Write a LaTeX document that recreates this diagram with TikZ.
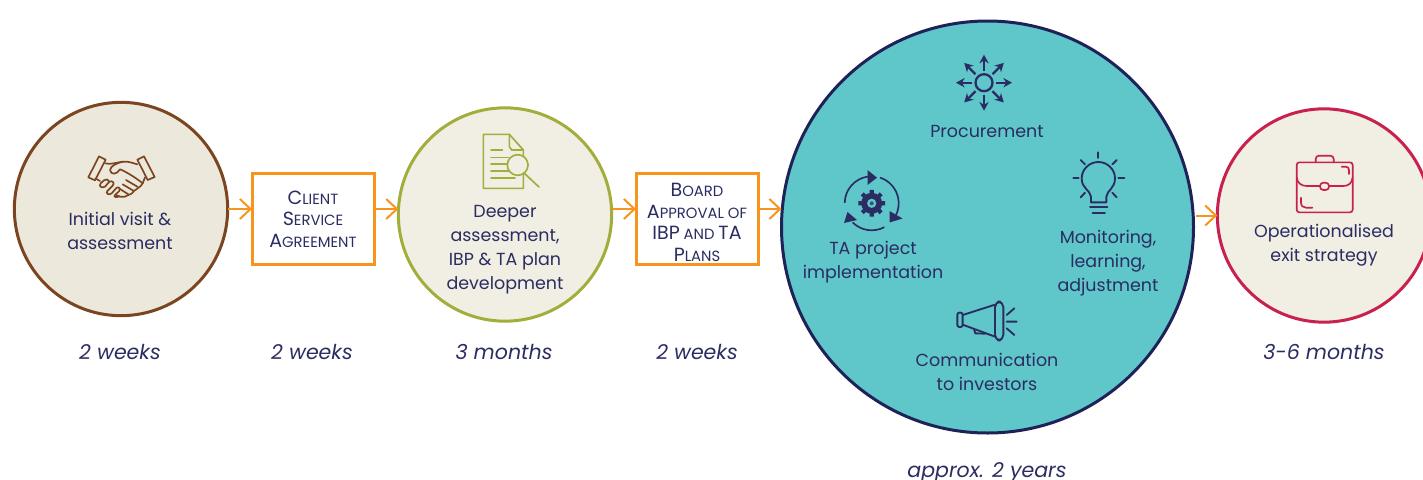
\documentclass[tikz,border=0pt]{standalone}
\usepackage{fontspec}
\setmainfont{Poppins}
\usetikzlibrary{arrows.meta,calc}
\definecolor{ink}{HTML}{2B2D62}
\definecolor{navyline}{HTML}{1F2258}
\definecolor{brownline}{HTML}{7A4520}
\definecolor{oliveline}{HTML}{A3AD3C}
\definecolor{crimson}{HTML}{C8204F}
\definecolor{orangeline}{HTML}{F7941E}
\definecolor{creamA}{HTML}{ECE9DC}
\definecolor{creamB}{HTML}{F1EEE3}
\definecolor{tealfill}{HTML}{5FC6C9}
\newcommand{\SmC}[2]{{\fontsize{14.3}{16}\selectfont #1}{\fontsize{11.1}{16}\selectfont #2}}
\newcommand{\SmS}[1]{{\fontsize{11.1}{16}\selectfont #1}}
\tikzset{
  x=0.75pt,y=-0.75pt,
  disc/.style={circle,line width=2.25pt,outer sep=0pt,inner sep=0pt},
  smalldisc/.style={disc,minimum size=160pt},
  stepbox/.style={rectangle,draw=orangeline,fill=white,line width=2.25pt,outer sep=0pt,inner sep=0pt,
    minimum width=91.5pt,minimum height=68.5pt,text=ink,align=center,font=\fontsize{11}{16.2}\selectfont},
  flow/.style={draw=orangeline,line width=1.5pt,-{Straight Barb[length=8pt,width=15pt,line width=1.5pt]}},
  lab/.style={text=ink,align=center,inner sep=0pt,font=\fontsize{13.1}{18}\selectfont},
  dur/.style={text=ink,align=center,inner sep=0pt,font=\fontsize{15.4}{18}\selectfont\itshape},
  thin icon/.style={line width=1.25pt,line cap=round,line join=round},
}
\begin{document}
\begin{tikzpicture}
\clip (0,0) rectangle (1423,479);
% discs
\node[smalldisc,draw=brownline,fill=creamA] (c1) at (121,209) {};
\node[smalldisc,draw=oliveline,fill=creamB] (c2) at (505,214.5) {};
\node[disc,draw=navyline,fill=tealfill,minimum size=309pt] (c3) at (987.5,227) {};
\node[smalldisc,draw=crimson,fill=creamB] (c4) at (1324,215.5) {};
% boxes
\node[stepbox] (b1) at (313,219) {\SmC{C}{LIENT}\\\SmC{S}{ERVICE}\\\SmC{A}{GREEMENT}};
\node[stepbox] (b2) at (697,219) {\rule{0pt}{15pt}\SmC{B}{OARD}\\\SmC{A}{PPROVAL OF}\\{\fontsize{14.3}{16}\selectfont IBP} \SmS{AND} {\fontsize{14.3}{16}\selectfont TA}\\\SmC{P}{LANS}};
% connectors
\draw[flow] (c1.east) -- (c1.east -| b1.west);
\draw[flow] (b1.east |- c1) -- (c2.west |- c1);
\draw[flow] (c2.east |- c1) -- (b2.west |- c1);
\draw[flow] (b2.east |- c1) -- (c3.west |- c1);
\draw[flow] ([xshift=2pt]c3.east |- c4) -- (c4.west);
% labels
\node[lab] (t1) at (120,230.5) {Initial visit \&\\assessment};
\node[lab] (t2) at (505,250) {Deeper\\assessment,\\IBP \& TA plan\\development};
\node[lab] (t3a) at (987,131) {Procurement};
\node[lab] (t3b) at (873,262) {TA project\\implementation};
\node[lab] (t3c) at (1108,263) {Monitoring,\\learning,\\adjustment};
\node[lab] (t3d) at (987,371.5) {Communication\\to investors};
\node[lab] (t4) at (1324,245) {Operationalised\\exit strategy};
% durations
\node[dur] (d1) at (120,352) {2 weeks};
\node[dur] (d2) at (312,352) {2 weeks};
\node[dur] (d3) at (504,352) {3 months};
\node[dur] (d4) at (697,352) {2 weeks};
\node[dur] (d5) at (987,472.5) {approx. 2 years};
\node[dur] (d6) at (1324,352) {3-6 months};
% handshake icon
\begin{scope}[shift={(80,145)},x=0.25pt,y=-0.25pt,draw=brownline,thin icon]
\draw (25,97) -- (57,34) -- (77,44) -- (45,106) -- cycle;
\draw (172,44) -- (192,34) -- (224,96) -- (203,105) -- cycle;
\draw (76,55) .. controls (90,60) and (110,52) .. (128,50) .. controls (145,48) and (160,55) .. (172,58);
\draw (128,50) .. controls (110,55) and (92,62) .. (90,75) .. controls (92,90) and (110,90) .. (120,73) .. controls (135,78) and (170,100) .. (188,115);
\draw (195,97) -- (188,115) .. controls (180,130) and (170,128) .. (162,138) .. controls (155,150) and (145,148) .. (135,155) .. controls (125,158) and (115,155) .. (108,150);
\draw (46,100) -- (60,108);
\draw (72,106) -- (62,115) .. controls (55,125) and (65,130) .. (75,125) -- (88,110) .. controls (98,105) and (105,115) .. (98,122) -- (82,138) .. controls (75,145) and (88,152) .. (95,145) -- (110,128) .. controls (118,125) and (122,132) .. (118,138) -- (105,150) .. controls (98,155) and (110,160) .. (118,153);
\draw (72,106) .. controls (78,100) and (85,103) .. (88,110);
\draw (138,105) -- (172,125);
\draw (128,118) -- (160,137);
\draw (120,132) -- (145,148);
\end{scope}
% document icon
\begin{scope}[shift={(470,125)},x=0.25pt,y=-0.25pt,draw=oliveline,thin icon]
\draw (160,145) -- (160,190) -- (40,190) -- (40,28) -- (118,28) -- (160,75) -- (160,92);
\draw (118,28) -- (118,65) -- (125,75) -- (160,75);
\draw (63,75) -- (97,75) (63,97) -- (115,97) (63,117) -- (110,117) (63,138) -- (115,138) (63,158) -- (135,158);
\draw (143,120) circle[radius=31];
\draw (163,145) -- (207,186);
\end{scope}
% procurement icon
\coordinate (pc) at (984,82.7);
\draw[draw=ink,line width=1.7pt] (pc) circle[radius=8.5];
\foreach \a in {0,45,...,315}
  \draw[draw=ink,line width=1.7pt,-{Stealth[length=6.5pt,width=7pt]}] ($(pc)+(\a:12)$) -- ($(pc)+(\a:28)$);
% gear cycle icon
\coordinate (gc) at (871.7,203.3);
\begin{scope}[draw=ink,line width=1.25pt]
\draw ($(gc)+(181:27)$) arc[start angle=181,end angle=262,radius=27];
\draw ($(gc)+(-72:27)$) arc[start angle=-72,end angle=28,radius=27];
\draw ($(gc)+(62:27)$) arc[start angle=62,end angle=135,radius=27];
\end{scope}
\fill[ink] (867.5,170) -- (877,177.7) -- (867.5,185) -- cycle;
\fill[ink] (889.5,211) -- (902.5,218.5) -- (889.5,222.5) -- cycle;
\fill[ink] (844,223) -- (847.5,212) -- (857,220) -- cycle;
\fill[ink] (gc) circle[radius=10.5];
\foreach \a in {0,45,...,315}
  \fill[ink] ($(gc)+(\a-13:9)$) -- ($(gc)+(\a-9:13.5)$) -- ($(gc)+(\a+9:13.5)$) -- ($(gc)+(\a+13:9)$) -- cycle;
\fill[tealfill] (gc) circle[radius=4.6];
\fill[ink!75!tealfill] (gc) circle[radius=2];
% bulb icon
\begin{scope}[shift={(800,30)},x=0.25pt,y=-0.25pt,draw=ink,line width=1.4pt,line cap=round,line join=round]
\draw (873,517) -- (873,500) .. controls (870,480) and (845,475) .. (845,445) .. controls (845,418) and (868,396) .. (895,396) .. controls (922,396) and (945,418) .. (945,445) .. controls (945,475) and (922,480) .. (919,500) -- (919,517) -- cycle;
\draw (870,532) -- (922,532) (878,548) -- (915,548);
\draw (895,367) -- (895,384) (820,445) -- (836,445) (955,445) -- (973,445);
\draw (842,390) -- (855,403) (950,390) -- (937,403) (842,502) -- (855,488) (950,502) -- (937,488);
\end{scope}
% megaphone icon
\begin{scope}[shift={(900,280)},x=0.25pt,y=-0.25pt,draw=ink,line width=1.4pt,line cap=round,line join=round]
\draw[rounded corners=1.5pt] (172,98) rectangle (188,141);
\draw (188,105) -- (285,74) (188,134) -- (285,170);
\draw[rounded corners=4pt] (285,65) rectangle (310,181);
\draw (222,147) -- (226,160) -- (255,161);
\draw (320,105) -- (343,85) (320,125) -- (350,125) (320,145) -- (343,165);
\end{scope}
% briefcase icon
\begin{scope}[shift={(1180,100)},x=0.25pt,y=-0.25pt,draw=crimson,thin icon]
\draw[rounded corners=2pt] (350,187) rectangle (518,337);
\draw[rounded corners=2.5pt] (407,187) -- (407,167) -- (461,167) -- (461,187);
\draw (350,232) .. controls (352,250) and (365,258) .. (380,258) -- (420,258);
\draw (447,258) -- (490,258) .. controls (505,258) and (516,250) .. (518,232);
\draw[rounded corners=2.5pt] (420,248) rectangle (447,270);
\draw (485,200) -- (497,200) .. controls (503,200) and (507,204) .. (507,210) -- (507,222);
\draw (363,293) -- (363,308) .. controls (363,318) and (370,323) .. (378,323) -- (397,323);
\end{scope}
\end{tikzpicture}
\end{document}
